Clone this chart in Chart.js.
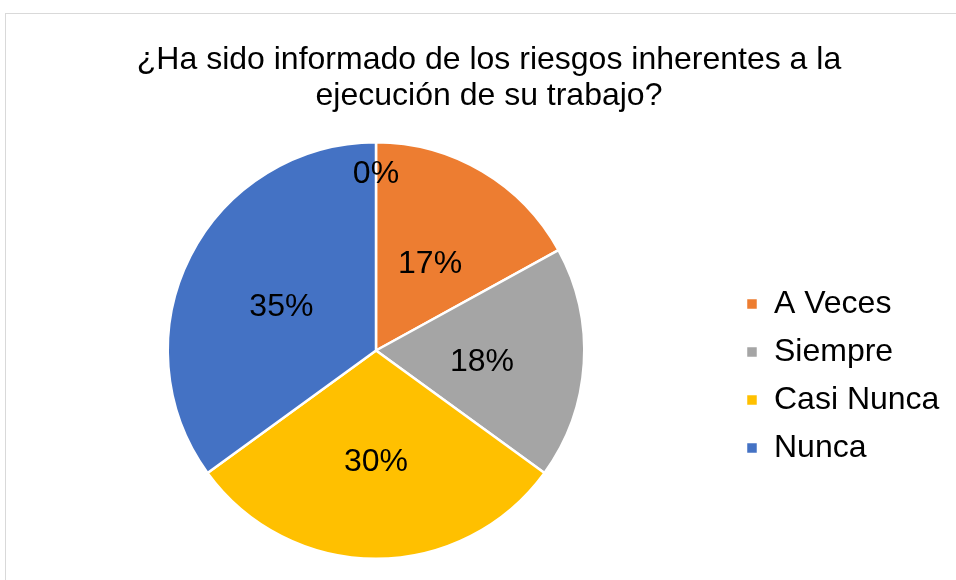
<!DOCTYPE html>
<html>
<head>
<meta charset="utf-8">
<script src="https://cdn.jsdelivr.net/npm/chart.js@4"></script>
<style>
  html, body { margin: 0; padding: 0; background: #fff; }
  #wrap { position: relative; width: 956px; height: 580px; overflow: hidden; }
  #frame { position: absolute; left: 5px; top: 13px; width: 960px; height: 580px;
           border-top: 1px solid #d9d9d9; border-left: 1px solid #d9d9d9; box-sizing: border-box; }
  canvas { position: absolute; left: 0; top: 0; }
</style>
</head>
<body>
<div id="wrap">
  <div id="frame"></div>
  <canvas id="c" width="956" height="580"></canvas>
</div>
<script>
const titleLines = ['¿Ha sido informado de los riesgos inherentes a la', 'ejecución de su trabajo?'];
const categories = ['', 'A Veces', 'Siempre', 'Casi Nunca', 'Nunca'];
const percentages = [0, 17, 18, 30, 35];
const colors = ['#4472C4', '#ED7D31', '#A5A5A5', '#FFC000', '#4472C4'];

const FONT = "'Liberation Sans', Arial, Helvetica, sans-serif";

const labelPlugin = {
  id: 'sliceLabels',
  afterDatasetsDraw(chart) {
    const ctx = chart.ctx;
    const meta = chart.getDatasetMeta(0);
    const data = chart.data.datasets[0].data;
    ctx.save();
    ctx.font = '32px ' + FONT;
    ctx.fillStyle = '#000';
    ctx.textAlign = 'center';
    ctx.textBaseline = 'middle';
    meta.data.forEach((arc, i) => {
      const v = data[i];
      const p = arc.getProps(['x', 'y', 'startAngle', 'endAngle', 'outerRadius'], true);
      const mid = (p.startAngle + p.endAngle) / 2;
      const f = v === 0 ? 0.87 : 0.51;
      const x = p.x + Math.cos(mid) * p.outerRadius * f;
      const y = p.y + Math.sin(mid) * p.outerRadius * f + 5;
      ctx.fillText(v + '%', x, y);
    });
    ctx.restore();
  }
};

new Chart(document.getElementById('c'), {
  type: 'pie',
  data: {
    labels: categories,
    datasets: [{
      data: percentages,
      backgroundColor: colors,
      borderColor: '#ffffff',
      borderWidth: 2.5
    }]
  },
  options: {
    responsive: false,
    animation: false,
    layout: { padding: { left: 22, right: 0, top: 0, bottom: 20 } },
    plugins: {
      title: {
        display: true,
        text: titleLines,
        color: '#000',
        font: { family: FONT, size: 32, weight: 'normal', lineHeight: 1.125 },
        padding: { top: 42, bottom: 27 }
      },
      subtitle: {
        display: true,
        position: 'right',
        fullSize: false,
        text: ' ',
        font: { size: 2.6, lineHeight: 1 },
        padding: { top: 2, bottom: 2 }
      },
      legend: {
        position: 'right',
        align: 'start',
        title: {
          display: true,
          text: ' ',
          font: { size: 1, lineHeight: 1 },
          padding: { top: 271, bottom: 0 }
        },
        labels: {
          filter: (item) => item.text !== '',
          color: '#000',
          font: { family: FONT, size: 32 },
          boxWidth: 12,
          boxHeight: 12,
          padding: 16
        }
      },
      tooltip: { enabled: false }
    }
  },
  plugins: [labelPlugin]
});
</script>
</body>
</html>
